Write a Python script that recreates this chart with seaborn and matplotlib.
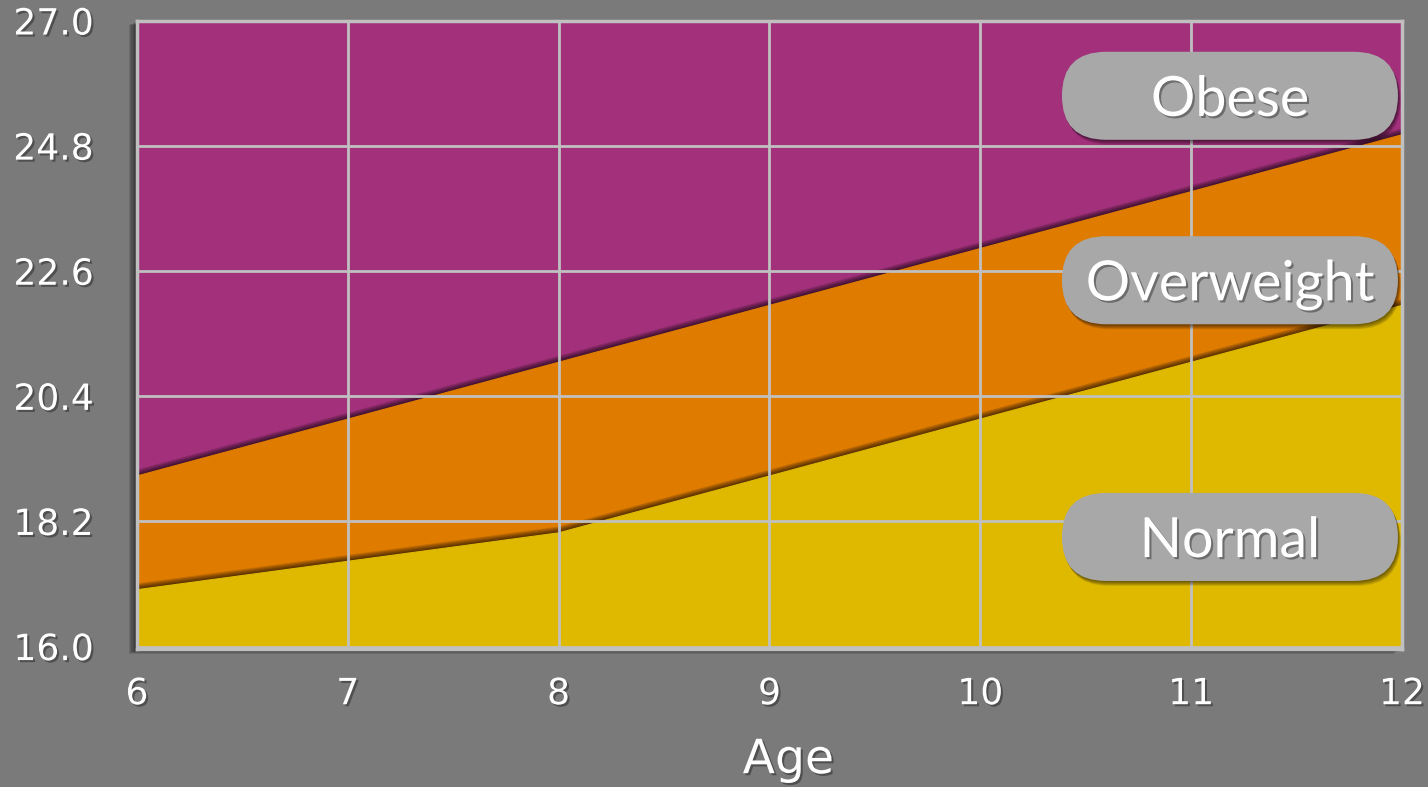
import matplotlib
matplotlib.use("Agg")
import matplotlib.pyplot as plt
import matplotlib.patheffects as pe
from matplotlib.patches import FancyBboxPatch
import seaborn as sns
import pandas as pd

# BMI bands by age
ages = [6, 7, 8, 9, 10, 11, 12]
normal_upper = [17.0, 17.5, 18.0, 19.0, 20.0, 21.0, 22.0]
overweight_upper = [19.0, 20.0, 21.0, 22.0, 23.0, 24.0, 25.0]
y_floor = 16.0
y_ceiling = 27.0
y_ticks = [16.0, 18.2, 20.4, 22.6, 24.8, 27.0]
x_ticks = [6, 7, 8, 9, 10, 11, 12]
categories = ["Obese", "Overweight", "Normal"]
x_label = "Age"

BG = "#7a7a7a"
PURPLE = "#a2307b"
ORANGE = "#df7c00"
YELLOW = "#dfb900"
GRID = "#c0c0c0"
PILL = "#a8a8a8"


def soft_shadow(dx, dy, steps=5, alpha=0.13):
    """Stack of offset shadows that fades out, followed by the artist itself."""
    effects = []
    for i in range(steps, 0, -1):
        f = i / steps
        effects.append(pe.SimplePatchShadow(offset=(dx * f, dy * f), shadow_rgbFace="black", alpha=alpha))
    effects.append(pe.Normal())
    return effects


sns.set_theme(style="whitegrid")
plt.rcParams["font.family"] = ["DejaVu Sans"]

df = pd.DataFrame({"age": ages, "normal": normal_upper, "overweight": overweight_upper})

fig = plt.figure(figsize=(14.28, 7.87), dpi=100, facecolor=BG)
ax = fig.add_axes([0.0959, 0.1748, 0.8859, 0.7985])
ax.set_facecolor(PURPLE)
ax.patch.set_path_effects(soft_shadow(-6, -3, steps=6, alpha=0.12))

# Obese band: from overweight threshold to the top of the scale
ax.fill_between(df["age"], df["overweight"], y_ceiling, color=PURPLE, lw=0, zorder=1.0)
# Overweight band, casting a soft shadow onto the band above
ax.fill_between(df["age"], y_floor - 0.1, df["overweight"], color=ORANGE, lw=0, zorder=1.1,
                path_effects=soft_shadow(-0.5, 4.5, steps=6, alpha=0.14))
# Normal band
ax.fill_between(df["age"], y_floor - 0.1, df["normal"], color=YELLOW, lw=0, zorder=1.2,
                path_effects=soft_shadow(-0.5, 4.5, steps=6, alpha=0.14))

sns.lineplot(data=df, x="age", y="overweight", ax=ax, color=ORANGE, lw=0.8, zorder=1.15)
sns.lineplot(data=df, x="age", y="normal", ax=ax, color=YELLOW, lw=0.8, zorder=1.25)

ax.set_xlim(ages[0], ages[-1])
ax.set_ylim(y_floor - 0.05, y_ceiling)
ax.set_xticks(x_ticks)
ax.set_yticks(y_ticks)
ax.set_xticklabels([str(v) for v in x_ticks])
ax.set_yticklabels([f"{v:.1f}" for v in y_ticks])
ax.set_axisbelow(False)
ax.grid(True, color=GRID, lw=2)
ax.tick_params(axis="both", length=0, labelsize=26, colors="white")
ax.tick_params(axis="x", pad=20)
ax.tick_params(axis="y", pad=31)
for s in ax.spines.values():
    s.set_color(GRID)
    s.set_linewidth(2.5)
    s.set_zorder(3)

text_shadow = [pe.SimplePatchShadow(offset=(1.5, -1.5), shadow_rgbFace="black", alpha=0.35), pe.Normal()]
for lbl in ax.get_xticklabels() + ax.get_yticklabels():
    lbl.set_path_effects(text_shadow)

ax.set_xlabel(x_label, fontsize=34, color="white", path_effects=text_shadow, va="center")
ax.xaxis.set_label_coords(0.515, -0.177)
ax.set_ylabel("")

# Category pills on the right
pill_w, pill_h = 0.2656, 0.1401
aspect = (0.8859 * 1428) / (0.7985 * 787)
pill_cx = 0.864
pill_cy = {"Obese": 0.881, "Overweight": 0.5875, "Normal": 0.179}
for name in categories:
    cy = pill_cy[name]
    box = FancyBboxPatch((pill_cx - pill_w / 2, cy - pill_h / 2), pill_w, pill_h,
                         boxstyle=f"round,pad=0,rounding_size={pill_h / 2 / aspect:.4f}",
                         mutation_aspect=aspect, transform=ax.transAxes,
                         facecolor=PILL, edgecolor="none", zorder=5, clip_on=False)
    box.set_path_effects(soft_shadow(2, -3.5, steps=5, alpha=0.12))
    ax.add_patch(box)
    ax.annotate(name, xy=(pill_cx, cy), xycoords="axes fraction",
                xytext=(0, -14.5), textcoords="offset points",
                ha="center", va="baseline", fontsize=40, color="white",
                family=["Lato", "DejaVu Sans"], zorder=6, path_effects=text_shadow)

fig.savefig("out.png", dpi=100, facecolor=BG)
